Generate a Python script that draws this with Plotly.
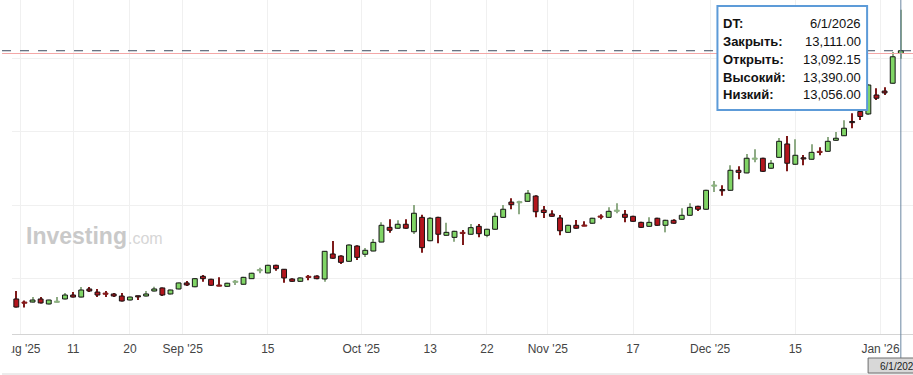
import plotly.graph_objects as go

# ---------------- data ----------------
tick_pos = [0.5, 7, 14, 20.5, 31, 42.5, 51, 58, 65.5, 76, 85.5, 96, 106.5]
tick_text = ["Aug '25", "11", "20", "Sep '25", "15", "Oct '25", "13", "22",
             "Nov '25", "17", "Dec '25", "15", "Jan '26"]

open_ = [11423, 11396, 11402, 11423, 11389, 11400, 11423, 11450, 11436, 11491,
         11470, 11458, 11457, 11443, 11416, 11442, 11443, 11477, 11498, 11457,
         11491, 11532, 11506, 11577, 11557, 11513, 11509, 11536, 11523, 11561,
         11615, 11600, 11652, 11625, 11559, 11543, 11571, 11579, 11559, 11729,
         11715, 11679, 11783, 11727, 11749, 11810, 11910, 11904, 11931, 11880,
         11978, 11819, 11978, 11856, 11842, 11870, 11863, 11917, 11856, 11897,
         11978, 12082, 12077, 12087, 12123, 12028, 12001, 11974, 11876, 11924,
         11921, 11938, 11982, 11978, 12019, 11999, 11985, 11944, 11917, 11972,
         11924, 11958, 11965, 11992, 12053, 12033, 12190, 12164, 12162, 12298,
         12280, 12373, 12380, 12312, 12386, 12477, 12339, 12380, 12373, 12421,
         12427, 12502, 12533, 12627, 12698, 12681, 12810, 12837, 12890, 13092.15]

high = [11477, 11413, 11436, 11436, 11418, 11436, 11464, 11470, 11504, 11504,
        11491, 11477, 11464, 11464, 11440, 11445, 11477, 11506, 11501, 11487,
        11535, 11545, 11566, 11586, 11561, 11570, 11534, 11552, 11574, 11602,
        11636, 11656, 11656, 11627, 11564, 11570, 11586, 11584, 11749, 11817,
        11720, 11795, 11788, 11770, 11831, 11944, 11965, 11958, 11965, 12062,
        11996, 11980, 11982, 11942, 11887, 11892, 11933, 11933, 11901, 12010,
        12062, 12108, 12091, 12164, 12128, 12055, 12026, 11994, 11928, 11960,
        11951, 11976, 11999, 12046, 12074, 12028, 11989, 11948, 11978, 11976,
        11962, 11965, 12040, 12074, 12057, 12166, 12225, 12196, 12332, 12325,
        12409, 12441, 12384, 12368, 12518, 12531, 12509, 12402, 12475, 12454,
        12524, 12558, 12638, 12686, 12776, 12885, 12856, 12862, 13102, 13390]

low = [11365, 11365, 11399, 11392, 11385, 11399, 11419, 11433, 11433, 11470,
       11436, 11436, 11436, 11406, 11413, 11416, 11440, 11474, 11443, 11453,
       11487, 11511, 11502, 11540, 11513, 11509, 11506, 11518, 11520, 11559,
       11598, 11598, 11615, 11534, 11540, 11540, 11550, 11557, 11540, 11697,
       11661, 11676, 11688, 11708, 11747, 11808, 11874, 11901, 11901, 11865,
       11738, 11815, 11802, 11853, 11812, 11790, 11860, 11842, 11842, 11894,
       11976, 12033, 11999, 12084, 11978, 11974, 11982, 11856, 11874, 11901,
       11917, 11935, 11965, 11976, 12006, 11944, 11948, 11906, 11914, 11921,
       11876, 11935, 11962, 11989, 12021, 12030, 12150, 12125, 12159, 12237,
       12278, 12352, 12286, 12309, 12384, 12291, 12336, 12332, 12370, 12400,
       12424, 12499, 12531, 12584, 12640, 12674, 12776, 12810, 12887, 13056]

close = [11368, 11394, 11416, 11396, 11416, 11402, 11450, 11436, 11484, 11477,
         11450, 11455, 11443, 11409, 11436, 11437, 11457, 11491, 11450, 11484,
         11532, 11518, 11561, 11561, 11516, 11510, 11530, 11538, 11570, 11598,
         11617, 11652, 11629, 11566, 11543, 11566, 11569, 11561, 11747, 11700,
         11672, 11790, 11706, 11754, 11808, 11924, 11890, 11931, 11904, 12006,
         11772, 11972, 11863, 11876, 11883, 11868, 11908, 11867, 11897, 11985,
         12033, 12064, 12079, 12142, 12016, 12011, 11985, 11887, 11924, 11904,
         11918, 11972, 11979, 12019, 12021, 11978, 11951, 11910, 11944, 11924,
         11958, 11938, 11992, 12046, 12033, 12162, 12193, 12159, 12298, 12284,
         12380, 12376, 12291, 12346, 12495, 12346, 12400, 12375, 12420, 12419,
         12495, 12516, 12584, 12622, 12664, 12878, 12788, 12824, 13070, 13111]

tooltip_labels = ["DT:", "Закрыть:", "Открыть:", "Высокий:", "Низкий:"]
tooltip_values = ["6/1/2026", "13,111.00", "13,092.15", "13,390.00", "13,056.00"]
crosshair_date = "6/1/2026"

# ---------------- styling ----------------
FONT = "Liberation Sans, Arial, Helvetica, sans-serif"
UP_FILL, DOWN_FILL = "#80d566", "#b3151d"
UP_WICK, DOWN_WICK = "#8fab86", "#7d1a1a"
OUTLINE = "#141414"

n = len(open_)
xs = list(range(n))
up = [c >= o for o, c in zip(open_, close)]
wick_col = [UP_WICK if u else DOWN_WICK for u in up]
body_fill = [UP_FILL if u else DOWN_FILL for u in up]
body_line = [OUTLINE if abs(c - o) >= 4 else wc for o, c, wc in zip(open_, close, wick_col)]
body_base = [min(o, c) for o, c in zip(open_, close)]
body_len = [max(abs(c - o), 8) for o, c in zip(open_, close)]
wick_len = [h - l for h, l in zip(high, low)]

fig = go.Figure()
fig.add_trace(go.Bar(x=xs, y=wick_len, base=low, width=0.13,
                     marker=dict(color=wick_col, line=dict(width=0)),
                     hoverinfo="skip"))
fig.add_trace(go.Bar(x=xs, y=body_len, base=body_base, width=0.6,
                     marker=dict(color=body_fill, line=dict(color=body_line, width=1)),
                     hoverinfo="skip"))

L, T, PW, PH = 10, 0, 903, 334


def px(x):
    return (x - L) / PW


def py(y):
    return (PH - y) / PH


shapes = [
    # bottom border line
    dict(type="line", xref="paper", yref="paper", x0=px(0), x1=px(913), y0=py(374), y1=py(374),
         line=dict(color="#d8d8d8", width=1), layer="above"),
    # white cover clipping x labels left of plot
    dict(type="rect", xref="paper", yref="paper", x0=px(-2), x1=px(9.5), y0=py(336), y1=py(370),
         fillcolor="white", line=dict(width=0), layer="above"),
    # last price line
    dict(type="line", xref="paper", yref="y", x0=px(0), x1=1.02, y0=open_[-1], y1=open_[-1],
         line=dict(color="#f3a7a7", width=1), layer="above"),
    # crosshair horizontal
    dict(type="line", xref="paper", yref="y", x0=px(0), x1=1.02, y0=close[-1], y1=close[-1],
         line=dict(color="#3b4a5e", width=1, dash="dash"), layer="above"),
    # crosshair vertical
    dict(type="line", xref="x", yref="paper", x0=n - 1, x1=n - 1, y0=py(0), y1=py(358),
         line=dict(color="#6a86a2", width=1), layer="above"),
    # date box
    dict(type="rect", xref="paper", yref="paper", x0=px(868), x1=px(925), y0=py(373), y1=py(358),
         fillcolor="#d8d8d8", line=dict(color="#6e6e6e", width=1), layer="above"),
    # tooltip box
    dict(type="rect", xref="paper", yref="paper", x0=px(717), x1=px(867), y0=py(110), y1=py(6),
         fillcolor="white", line=dict(color="#5d9bd8", width=2), layer="above"),
]

annotations = [
    dict(xref="paper", yref="paper", x=px(22), y=py(236), xanchor="left", yanchor="middle",
         text="<b>Investing</b>", showarrow=False,
         font=dict(family=FONT, size=23, color="#c9c9c9")),
    dict(xref="paper", yref="paper", x=px(124), y=py(238.5), xanchor="left", yanchor="middle",
         text=".com", showarrow=False,
         font=dict(family=FONT, size=16, color="#d6d6d6")),
    dict(xref="paper", yref="paper", x=px(878), y=py(366), xanchor="left", yanchor="middle",
         text=crosshair_date, showarrow=False,
         font=dict(family=FONT, size=10, color="#222")),
]
row_y = [23.5, 41.5, 59, 77, 94.5]
for lab, val, ry in zip(tooltip_labels, tooltip_values, row_y):
    annotations.append(dict(xref="paper", yref="paper", x=px(721), y=py(ry), xanchor="left",
                            yanchor="middle", text="<b>" + lab + "</b>", showarrow=False,
                            font=dict(family=FONT, size=13, color="#111")))
    annotations.append(dict(xref="paper", yref="paper", x=px(863), y=py(ry), xanchor="right",
                            yanchor="middle", text=val, showarrow=False,
                            font=dict(family=FONT, size=13, color="#111")))

fig.update_layout(
    width=913, height=375,
    margin=dict(l=L, r=0, t=T, b=375 - PH),
    paper_bgcolor="white", plot_bgcolor="white",
    barmode="overlay", showlegend=False,
    xaxis=dict(range=[-0.53, 110.5], tickmode="array", tickvals=tick_pos, ticktext=tick_text,
               showgrid=True, gridcolor="#f0f0f0", zeroline=False,
               showline=True, linecolor="#d4d4d4", linewidth=1, ticks="",
               ticklabeloverflow="allow", ticklabelstandoff=4,
               tickfont=dict(family=FONT, size=12, color="#444")),
    yaxis=dict(range=[11184.8, 13456], showticklabels=False, tick0=61, dtick=500,
               showgrid=True, gridcolor="#f0f0f0", zeroline=False, ticks=""),
    shapes=shapes, annotations=annotations,
)

fig.write_html("out.html", config={"displayModeBar": False},
               post_script="document.body.style.margin='0';document.body.style.overflow='hidden';")
